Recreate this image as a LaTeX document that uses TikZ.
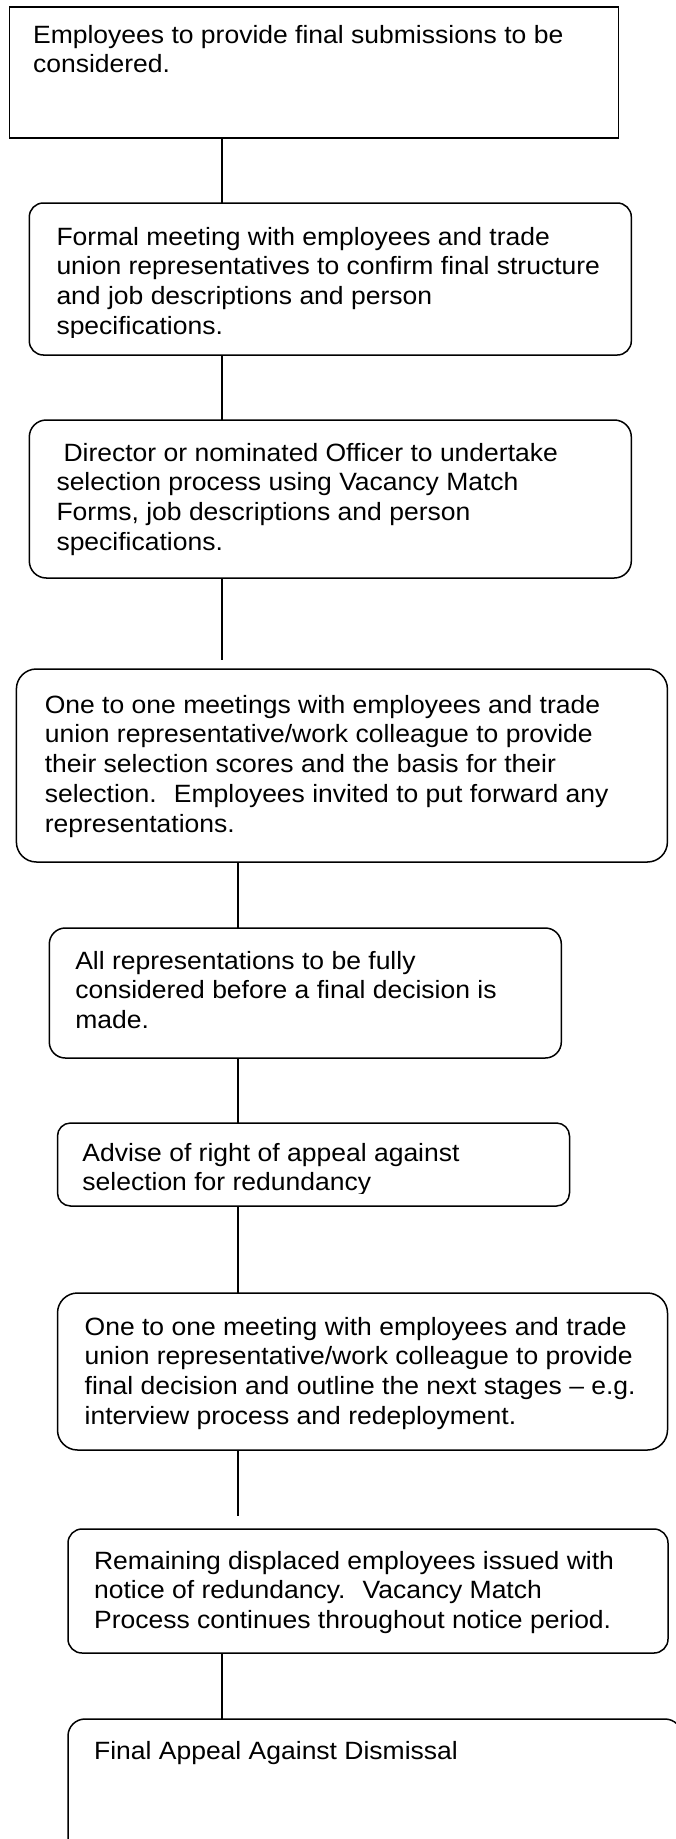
\documentclass[tikz,border=0pt]{standalone}
\usepackage{fontspec}
\setmainfont[FakeStretch=1.06]{Liberation Sans}
\begin{document}
\begin{tikzpicture}[x=1pt,y=-1pt,
  sqbox/.style={draw, line width=1.5pt, inner sep=0pt, outer sep=0pt, anchor=north west},
  rbox/.style={draw, line width=1.5pt, rounded corners=#1, inner sep=0pt, outer sep=0pt, anchor=north west},
  rbox/.default=15pt,
  txt/.style={anchor=base west, inner sep=0pt, align=left, font=\fontsize{25pt}{29.8pt}\selectfont},
  link/.style={draw, line width=1.5pt}]
\useasboundingbox (0,0) rectangle (676,1839);
\clip (0,0) rectangle (676,1839);
\fill[white] (0,0) rectangle (676,1839);

\coordinate (xa) at (221.8,0);
\coordinate (xb) at (238.2,0);

% boxes
\node[sqbox, minimum width=609pt, minimum height=131pt] (b1) at (9.4,7) {};
\node[rbox=14pt, minimum width=602pt, minimum height=152pt] (b2) at (29.3,203) {};
\node[rbox=17pt, minimum width=602pt, minimum height=158pt] (b3) at (29.3,420) {};
\node[rbox=20pt, minimum width=651pt, minimum height=193pt] (b4) at (16.4,669) {};
\node[rbox=16pt, minimum width=512pt, minimum height=130pt] (b5) at (49.3,928) {};
\node[rbox=13pt, minimum width=512pt, minimum height=83pt] (b6) at (57.5,1123) {};
\node[rbox=20pt, minimum width=610pt, minimum height=157pt] (b7) at (57.5,1293) {};
\node[rbox=14pt, minimum width=600pt, minimum height=124pt] (b8) at (68,1529) {};
\node[rbox=17pt, minimum width=614pt, minimum height=135pt] (b9) at (68,1719) {};

% texts (anchored at the baseline of their last line)
\node[txt] (t1) at (32.9,72.8) {Employees to provide final submissions to be\\considered.};
\begin{scope}
\clip (0,200) rectangle (676,337);
\node[txt] (t2) at (56.3,334.4) {Formal meeting with employees and trade\\union representatives to confirm final structure\\and job descriptions and person\\specifications.};
\end{scope}
\node[txt] (t3) at (56.3,550.4) {\hspace*{7pt}Director or nominated Officer to undertake\\selection process using Vacancy Match\\Forms, job descriptions and person\\specifications.};
\node[txt] (t4) at (44.6,832.2) {One to one meetings with employees and trade\\union representative/work colleague to provide\\their selection scores and the basis for their\\selection.~ Employees invited to put forward any\\representations.};
\node[txt] (t5) at (75.1,1028.6) {All representations to be fully\\considered before a final decision is\\made.};
\begin{scope}
\clip (0,1120) rectangle (676,1193);
\node[txt] (t6) at (82.2,1190.8) {Advise of right of appeal against\\selection for redundancy};
\end{scope}
\node[txt] (t7) at (84.5,1424.4) {One to one meeting with employees and trade\\union representative/work colleague to provide\\final decision and outline the next stages -- e.g.\\interview process and redeployment.};
\node[txt] (t8) at (93.9,1628.6) {Remaining displaced employees issued with\\notice of redundancy.~ Vacancy Match\\Process continues throughout notice period.};
\node[txt] (t9) at (93.9,1759) {Final Appeal Against Dismissal};

% connectors
\coordinate (e3) at (221.8,660);
\coordinate (e7) at (238.2,1516);
\draw[link] (b1.south -| xa) -- (b2.north -| xa);
\draw[link] (b2.south -| xa) -- (b3.north -| xa);
\draw[link] (b3.south -| xa) -- (e3);
\draw[link] (b4.south -| xb) -- (b5.north -| xb);
\draw[link] (b5.south -| xb) -- (b6.north -| xb);
\draw[link] (b6.south -| xb) -- (b7.north -| xb);
\draw[link] (b7.south -| xb) -- (e7);
\draw[link] (b8.south -| xa) -- (b9.north -| xa);
\end{tikzpicture}
\end{document}
